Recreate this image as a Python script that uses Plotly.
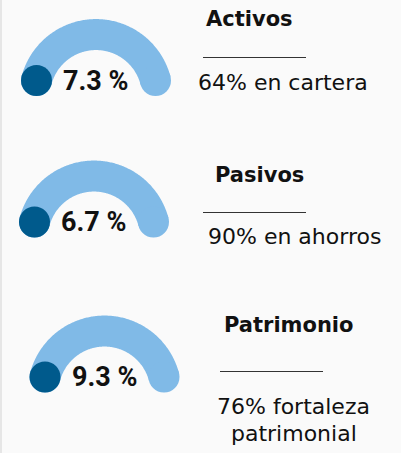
import numpy as np
import plotly.graph_objects as go

# ---- data ----
categories = ["Activos", "Pasivos", "Patrimonio"]
values = [7.3, 6.7, 9.3]
notes = [["64% en cartera"], ["90% en ahorros"], ["76% fortaleza", "patrimonial"]]

# ---- layout constants (pixels) ----
W, H = 401, 453
gauge_mid = [(96, 80.5), (94, 222), (104.5, 377)]     # chord midpoint of each arc
title_pos = [(249, 19), (259, 175), (288, 325)]
rule_pos = [(203, 306, 57.5), (203, 306, 212.5), (220, 323, 371.5)]
note_pos = [[(283, 82)], [(294, 236.5)], [(293, 406.5), (294, 433)]]
R, HALF, THICK = 61.5, 59.5, 31

LIGHT = "#80baE7"
DARK = "#005a8c"
TXT = "#111111"
BG = "#fafafa"
TITLE_FONT = "DejaVu Sans"
VAL_FONT = "Roboto"

fig = go.Figure()
annotations = []
shapes = []

for i, cat in enumerate(categories):
    mx, my = gauge_mid[i]
    drop = np.sqrt(R**2 - HALF**2)
    cy = my + drop
    t0 = np.arctan2(drop, HALF)
    th = np.linspace(np.pi - t0, t0, 200)
    ro, ri = R + THICK / 2, R - THICK / 2
    px = np.concatenate([mx + ro * np.cos(th), mx + ri * np.cos(th[::-1])])
    py = np.concatenate([cy - ro * np.sin(th), cy - ri * np.sin(th[::-1])])
    fig.add_trace(go.Scatter(x=px, y=py, mode="lines", fill="toself", fillcolor=LIGHT,
                             line=dict(width=0, color=LIGHT, simplify=False),
                             hoverinfo="skip", showlegend=False))
    ex = [mx + R * np.cos(th[0]), mx + R * np.cos(th[-1])]
    ey = [cy - R * np.sin(th[0]), cy - R * np.sin(th[-1])]
    fig.add_trace(go.Scatter(x=ex, y=ey, mode="markers",
                             marker=dict(color=LIGHT, size=THICK, line=dict(width=0)),
                             hoverinfo="skip", showlegend=False))
    fig.add_trace(go.Scatter(x=[ex[0]], y=[ey[0]], mode="markers",
                             marker=dict(color=DARK, size=THICK, line=dict(width=0)),
                             hoverinfo="skip", showlegend=False))
    annotations.append(dict(x=mx - 0.5, y=my, xref="x", yref="y", text=f"{values[i]} %",
                            showarrow=False, xanchor="center", yanchor="middle",
                            font=dict(family=VAL_FONT, size=27, color=TXT, weight="bold")))
    tx, ty = title_pos[i]
    annotations.append(dict(x=tx, y=ty, xref="x", yref="y", text=f"<b>{cat}</b>",
                            showarrow=False, xanchor="center", yanchor="middle",
                            font=dict(family=TITLE_FONT, size=21, color=TXT)))
    x0, x1, ly = rule_pos[i]
    shapes.append(dict(type="line", xref="x", yref="y", x0=x0, x1=x1, y0=ly, y1=ly,
                       line=dict(color="#333333", width=1)))
    for line_txt, (nx, ny) in zip(notes[i], note_pos[i]):
        annotations.append(dict(x=nx, y=ny, xref="x", yref="y", text=line_txt,
                                showarrow=False, xanchor="center", yanchor="middle",
                                font=dict(family=TITLE_FONT, size=22, color=TXT)))

shapes.append(dict(type="line", xref="x", yref="y", x0=1, x1=1, y0=0, y1=H,
                   line=dict(color="#e6e6e6", width=2)))

fig.update_layout(
    width=W, height=H, margin=dict(l=0, r=0, t=0, b=0),
    paper_bgcolor=BG, plot_bgcolor=BG,
    xaxis=dict(range=[0, W], visible=False, fixedrange=True),
    yaxis=dict(range=[H, 0], visible=False, fixedrange=True),
    annotations=annotations, shapes=shapes, showlegend=False,
)
fig.write_html("out.html", config={"displayModeBar": False},
               post_script="document.body.style.margin='0';document.body.style.background='%s';" % BG)
